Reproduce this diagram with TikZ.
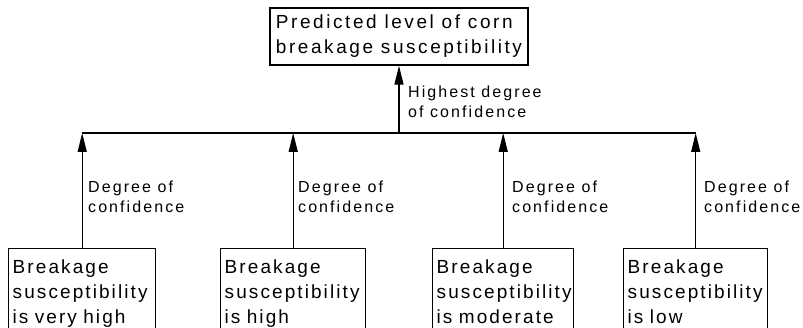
\documentclass[tikz,border=0pt]{standalone}
\usepackage{fontspec}
\setmainfont{Liberation Sans}[LetterSpace=13]
\newfontfamily\topfont{Liberation Sans}[LetterSpace=13.5]
\newfontfamily\leaffont{Liberation Sans}[LetterSpace=11]
\usetikzlibrary{arrows.meta}
\begin{document}
\begin{tikzpicture}[x=1pt,y=-1pt,
  labeltext/.style={font=\fontsize{16}{20}\selectfont, align=left, inner sep=0pt, anchor=west},
  topbox/.style={draw, line width=1.4pt, font=\topfont\fontsize{19}{25}\selectfont, align=left, minimum width=258pt, minimum height=57pt, inner sep=3pt},
  leafbox/.style={draw, line width=1.4pt, font=\leaffont\fontsize{19}{25}\selectfont, align=left, anchor=north west, inner xsep=4pt, inner ysep=11pt, text depth=45pt},
  arr/.style={-{Triangle[length=19pt,width=9pt]}, line width=1.3pt},
  busline/.style={line width=1.4pt}]
\useasboundingbox (0,0) rectangle (803,328);
\clip (0,0) rectangle (803,328);
\node[topbox] (top) at (399,36.5) {Predicted level of corn\\breakage susceptibility};
\node[leafbox, text width=139pt] (c1) at (8,248) {Breakage\\susceptibility\\is very high};
\node[leafbox, text width=137pt] (c2) at (220,248) {Breakage\\susceptibility\\is high};
\node[leafbox, text width=133pt] (c3) at (432,248) {Breakage\\susceptibility\\is moderate};
\node[leafbox, text width=136pt] (c4) at (623,248) {Breakage\\susceptibility\\is low};
\coordinate (bus) at (0,133);
\draw[busline] (c1.north |- bus) -- (c4.north |- bus);
\draw[arr] (c1.north) -- (c1.north |- bus);
\draw[arr] (c2.north) -- (c2.north |- bus);
\draw[arr] (c3.north) -- (c3.north |- bus);
\draw[arr] (c4.north) -- (c4.north |- bus);
\draw[arr] (top.south |- bus) -- (top.south);
\node[labeltext] (ltop) at (408,102) {Highest degree\\of confidence};
\node[labeltext] (l1) at (88,197) {Degree of\\confidence};
\node[labeltext] (l2) at (298,197) {Degree of\\confidence};
\node[labeltext] (l3) at (512,197) {Degree of\\confidence};
\node[labeltext] (l4) at (704,197) {Degree of\\confidence};
\end{tikzpicture}
\end{document}
